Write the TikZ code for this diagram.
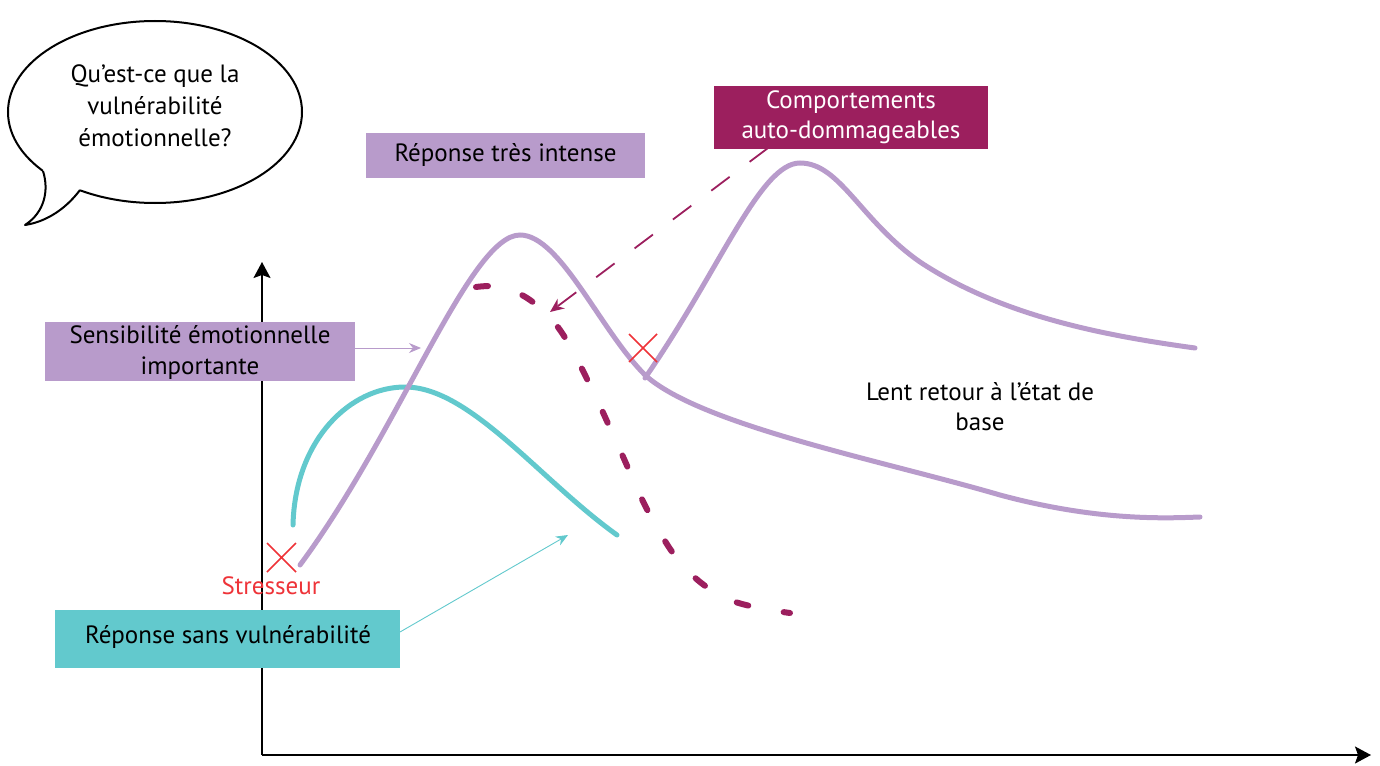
\documentclass[tikz,border=0pt]{standalone}
\usepackage{fontspec}
\setmainfont{PT Sans}
\usetikzlibrary{arrows.meta}
\definecolor{lav}{HTML}{B89BCB}
\definecolor{teal2}{HTML}{62C9CD}
\definecolor{plum}{HTML}{9C1F5E}
\definecolor{stressred}{HTML}{EE3338}
\tikzset{
  lbl/.style={font=\fontsize{25}{31}\selectfont, align=center},
  curve/.style={line width=5pt, line cap=round},
  thinarrow/.style={line width=0.9pt, -{Stealth[length=12pt,width=10pt]}},
  axisarrow/.style={line width=1.6pt, -{Stealth[length=16pt,width=17pt,inset=3pt]}},
  cross/.style={stressred, line width=1.5pt},
}
\begin{document}
\begin{tikzpicture}[x=1pt,y=-1pt]
\useasboundingbox (0,0) rectangle (1380,765);

% speech bubble: ellipse, tail patch, tail outline
\draw[line width=2pt, fill=white] (155,112) ellipse [x radius=147, y radius=91];
\fill[white] (47,160) -- (43,171) .. controls (49,190) and (45,212) .. (25,225)
  .. controls (45,222) and (65,210) .. (80,190) -- (85,180) -- cycle;
\draw[line width=2pt, line join=round]
  (43,171) .. controls (49,190) and (45,212) .. (25,225)
  .. controls (45,222) and (65,210) .. (80,190);
\node[lbl, font=\fontsize{25}{32}\selectfont] (bubble) at (155,106)
  {Qu’est-ce que la\\vulnérabilité\\émotionnelle?};

% axes
\coordinate (origin) at (262,755);
\coordinate (ytop) at (262,262);
\coordinate (xend) at (1371,755);
\draw[axisarrow] (origin) -- (ytop);
\draw[axisarrow] (origin) -- (xend);

% response curves
\draw[curve, teal2] (293,525) .. controls (295,440) and (350,387) .. (405,387)
  .. controls (470,387) and (540,480) .. (617,535);
\draw[curve, lav] (300,565) .. controls (400,430) and (470,235) .. (520,235)
  .. controls (560,235) and (600,330) .. (645,375)
  .. controls (700,425) and (880,460) .. (1000,495)
  .. controls (1100,522) and (1170,518) .. (1200,517);
\draw[curve, lav] (645,378) .. controls (720,270) and (760,163) .. (800,163)
  .. controls (840,163) and (860,220) .. (920,262)
  .. controls (1000,315) and (1100,335) .. (1195,348);
\draw[curve, line width=6pt, plum, dash pattern=on 12pt off 36pt] plot[smooth, tension=0.6] coordinates
  {(476,287) (500,287) (530,300) (560,330) (590,385) (620,450) (650,515) (685,568) (730,600) (790,613)};

% stressors
\draw[cross] (267,543) -- (296,572) (267,572) -- (296,543);
\draw[cross] (629,334) -- (657,362) (629,362) -- (657,334);
\node[stressred, lbl] (stress) at (271,586) {Stresseur};

% labels
\fill[lav] (366,133) rectangle (645,178);
\node[lbl] (intense) at (505.5,155) {Réponse très intense};

\fill[plum] (714,86) rectangle (988,149);
\node[white, lbl, font=\fontsize{25}{30}\selectfont] (comport) at (851,117) {Comportements\\auto-dommageables};

\fill[lav] (45,322) rectangle (355,381);
\node[lbl, font=\fontsize{25}{31}\selectfont] (sensib) at (200,352) {Sensibilité émotionnelle\\importante};

\fill[teal2] (55,610) rectangle (400,668);
\node[lbl] (sans) at (228,637) {Réponse sans vulnérabilité};

\node[lbl, font=\fontsize{25}{30}\selectfont] (lent) at (980,407) {Lent retour à l’état de\\base};

% pointers
\coordinate (sensibend) at (421,348);
\coordinate (sansend) at (568,535);
\coordinate (comportstart) at (768,148);
\coordinate (comportend) at (550,312);
\draw[lav, thinarrow] (355,348) -- (sensibend);
\draw[teal2, thinarrow] (400,632) -- (sansend);
\draw[plum, line width=1.8pt, dash pattern=on 23pt off 25pt, -{Stealth[length=14pt,width=12pt]}] (comportstart) -- (comportend);
\end{tikzpicture}
\end{document}
